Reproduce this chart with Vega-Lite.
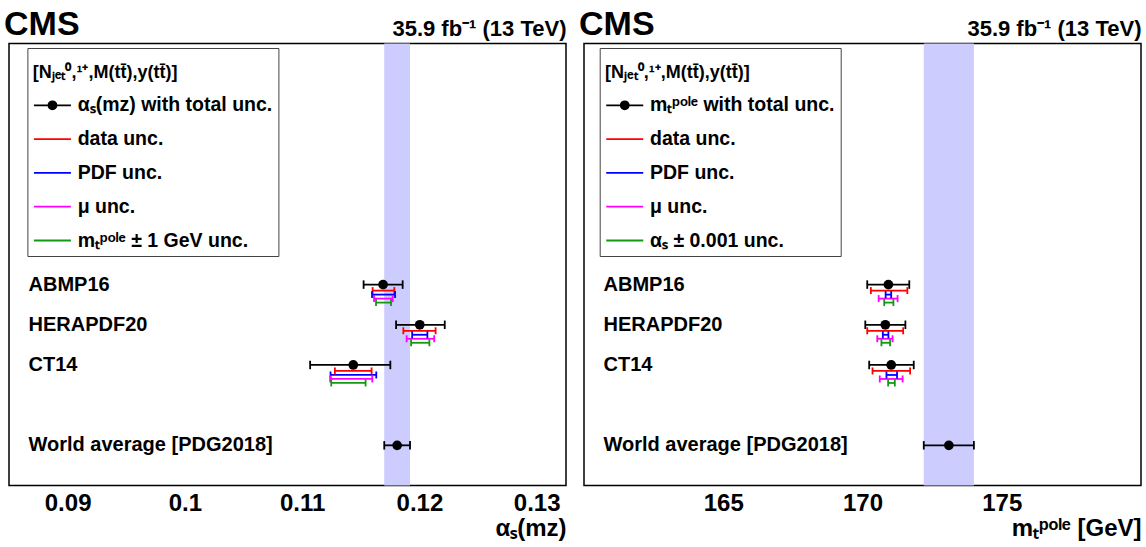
{
  "$schema": "https://vega.github.io/schema/vega-lite/v6.json",
  "padding": {"left": 3, "top": 6.5, "right": 4, "bottom": 0},
  "background": "white",
  "config": {
    "font": "Liberation Sans",
    "axis": {"grid": false},
    "view": {"stroke": "black", "strokeWidth": 1.5},
    "concat": {"spacing": 11}
  },
  "resolve": {"scale": {"color": "independent", "shape": "independent", "stroke": "independent"}},
  "datasets": {
    "alpha": [
      {"model": "ABMP16", "kind": "total", "val": 0.1169, "lo": 0.11524, "hi": 0.11857},
      {"model": "ABMP16", "kind": "data", "val": 0.1169, "lo": 0.11601, "hi": 0.11786},
      {"model": "ABMP16", "kind": "pdf", "val": 0.1169, "lo": 0.11596, "hi": 0.11792},
      {"model": "ABMP16", "kind": "mu", "val": 0.1169, "lo": 0.11613, "hi": 0.11772},
      {"model": "ABMP16", "kind": "fix", "val": 0.1169, "lo": 0.1163, "hi": 0.11758},
      {"model": "HERAPDF20", "kind": "total", "val": 0.12003, "lo": 0.11801, "hi": 0.12216},
      {"model": "HERAPDF20", "kind": "data", "val": 0.12003, "lo": 0.11863, "hi": 0.12138},
      {"model": "HERAPDF20", "kind": "pdf", "val": 0.12003, "lo": 0.11938, "hi": 0.12068},
      {"model": "HERAPDF20", "kind": "mu", "val": 0.12003, "lo": 0.11891, "hi": 0.12126},
      {"model": "HERAPDF20", "kind": "fix", "val": 0.12003, "lo": 0.11929, "hi": 0.12085},
      {"model": "CT14", "kind": "total", "val": 0.11436, "lo": 0.11068, "hi": 0.11752},
      {"model": "CT14", "kind": "data", "val": 0.11436, "lo": 0.11279, "hi": 0.11592},
      {"model": "CT14", "kind": "pdf", "val": 0.11436, "lo": 0.11242, "hi": 0.11632},
      {"model": "CT14", "kind": "mu", "val": 0.11436, "lo": 0.11239, "hi": 0.11598},
      {"model": "CT14", "kind": "fix", "val": 0.11436, "lo": 0.11248, "hi": 0.11541},
      {"model": "World average [PDG2018]", "kind": "total", "val": 0.1181, "lo": 0.117, "hi": 0.1192}
    ],
    "mt": [
      {"model": "ABMP16", "kind": "total", "val": 170.93, "lo": 170.17, "hi": 171.68},
      {"model": "ABMP16", "kind": "data", "val": 170.93, "lo": 170.30, "hi": 171.61},
      {"model": "ABMP16", "kind": "pdf", "val": 170.93, "lo": 170.83, "hi": 171.03},
      {"model": "ABMP16", "kind": "mu", "val": 170.93, "lo": 170.58, "hi": 171.26},
      {"model": "ABMP16", "kind": "fix", "val": 170.93, "lo": 170.78, "hi": 171.11},
      {"model": "HERAPDF20", "kind": "total", "val": 170.82, "lo": 170.10, "hi": 171.54},
      {"model": "HERAPDF20", "kind": "data", "val": 170.82, "lo": 170.17, "hi": 171.46},
      {"model": "HERAPDF20", "kind": "pdf", "val": 170.82, "lo": 170.73, "hi": 170.93},
      {"model": "HERAPDF20", "kind": "mu", "val": 170.82, "lo": 170.53, "hi": 171.08},
      {"model": "HERAPDF20", "kind": "fix", "val": 170.82, "lo": 170.68, "hi": 170.99},
      {"model": "CT14", "kind": "total", "val": 171.03, "lo": 170.24, "hi": 171.84},
      {"model": "CT14", "kind": "data", "val": 171.03, "lo": 170.36, "hi": 171.71},
      {"model": "CT14", "kind": "pdf", "val": 171.03, "lo": 170.86, "hi": 171.24},
      {"model": "CT14", "kind": "mu", "val": 171.03, "lo": 170.62, "hi": 171.44},
      {"model": "CT14", "kind": "fix", "val": 171.03, "lo": 170.92, "hi": 171.16},
      {"model": "World average [PDG2018]", "kind": "total", "val": 173.1, "lo": 172.2, "hi": 174.0}
    ]
  },
  "hconcat": [
    {
      "width": 557,
      "height": 442,
      "data": {"name": "alpha"},
      "title": {"text": "CMS", "anchor": "start", "frame": "group", "font": "Liberation Sans", "fontSize": 34, "fontWeight": "bold", "color": "black", "dx": -5, "offset": -24},
      "resolve": {"axis": {"x": "independent"}},
      "layer": [
        {
          "transform": [{"filter": "datum.kind == 'total' && datum.model == 'World average [PDG2018]'"}],
          "mark": {"type": "rect", "color": "#ccccff"},
          "encoding": {
            "x": {"field": "lo", "type": "quantitative", "scale": {"domain": [0.085, 0.1325], "nice": false, "zero": false},
              "axis": {"orient": "top", "values": [0.09, 0.1, 0.11, 0.12, 0.13], "labels": false, "domain": false, "grid": false, "ticks": false,
                "title": "35.9 fb⁻¹ (13 TeV)", "titleFont": "Liberation Sans", "titleFontSize": 22, "titleFontWeight": "bold", "titleColor": "black", "titleAnchor": "end", "titlePadding": 3}},
            "x2": {"field": "hi"}
          }
        },
        {
          "mark": {"type": "rule", "strokeWidth": 1.8},
          "encoding": {
            "x": {"field": "lo", "type": "quantitative", "scale": {"domain": [0.085, 0.1325], "nice": false, "zero": false},
              "axis": {"orient": "bottom", "values": [0.09, 0.1, 0.11, 0.12, 0.13], "labelExpr": "'' + datum.value",
                "domain": false, "ticks": false, "grid": false,
                "labelFont": "Liberation Sans", "labelFontSize": 24, "labelFontWeight": "bold", "labelColor": "black", "labelPadding": 6, "labelFlush": false, "labelOverlap": false,
                "title": "αₛ(mᴢ)", "titleFont": "Liberation Sans", "titleFontSize": 24, "titleFontWeight": "bold", "titleColor": "black", "titleAnchor": "end", "titlePadding": 1}},
            "x2": {"field": "hi"},
            "y": {"field": "model", "type": "nominal", "bandPosition": 0,
              "scale": {"type": "band", "domain": [" ", "  ", "   ", "    ", "     ", "ABMP16", "HERAPDF20", "CT14", "      ", "World average [PDG2018]"], "paddingInner": 0, "paddingOuter": 0.5},
              "axis": {"orient": "left", "domain": false, "ticks": false, "grid": false, "title": null, "labelAlign": "left", "labelBaseline": "middle", "labelPadding": -19, "labelFont": "Liberation Sans", "labelFontSize": 20, "labelFontWeight": "bold", "labelColor": "black", "labelLimit": 0}},
            "yOffset": {"field": "kind", "type": "nominal", "scale": {"type": "point", "domain": ["total", "_a", "_b", "data", "_c", "pdf", "_d", "mu", "_e", "fix"], "range": [20.1, 38.1], "padding": 0}},
            "stroke": {"field": "kind", "type": "nominal", "scale": {"domain": ["data", "pdf", "mu", "fix", "total"], "range": ["#ff0000", "#0000ff", "#ff00ff", "#119911", "black"]}, "legend": null}
          }
        },
        {
          "transform": [{"filter": "datum.kind == 'total'"}, {"fold": ["lo", "hi"], "as": ["end", "xe"]}],
          "mark": {"type": "point", "shape": "M0,-1L0,1", "filled": false, "size": 72, "strokeWidth": 1.8, "opacity": 1, "color": "black"},
          "encoding": {
            "x": {"field": "xe", "type": "quantitative", "axis": null},
            "y": {"field": "model", "type": "nominal", "bandPosition": 0,
              "scale": {"type": "band", "domain": [" ", "  ", "   ", "    ", "     ", "ABMP16", "HERAPDF20", "CT14", "      ", "World average [PDG2018]"], "paddingInner": 0, "paddingOuter": 0.5}},
            "yOffset": {"field": "kind", "type": "nominal", "scale": {"type": "point", "domain": ["total", "_a", "_b", "data", "_c", "pdf", "_d", "mu", "_e", "fix"], "range": [20.1, 38.1], "padding": 0}}
          }
        },
        {
          "transform": [{"filter": "datum.kind != 'total'"}, {"fold": ["lo", "hi"], "as": ["end", "xe"]}],
          "mark": {"type": "point", "shape": "M0,-1L0,1", "filled": false, "size": 49, "strokeWidth": 1.8, "opacity": 1},
          "encoding": {
            "x": {"field": "xe", "type": "quantitative", "axis": null},
            "y": {"field": "model", "type": "nominal", "bandPosition": 0,
              "scale": {"type": "band", "domain": [" ", "  ", "   ", "    ", "     ", "ABMP16", "HERAPDF20", "CT14", "      ", "World average [PDG2018]"], "paddingInner": 0, "paddingOuter": 0.5}},
            "yOffset": {"field": "kind", "type": "nominal", "scale": {"type": "point", "domain": ["total", "_a", "_b", "data", "_c", "pdf", "_d", "mu", "_e", "fix"], "range": [20.1, 38.1], "padding": 0}},
            "stroke": {"field": "kind", "type": "nominal", "scale": {"domain": ["data", "pdf", "mu", "fix", "total"], "range": ["#ff0000", "#0000ff", "#ff00ff", "#119911", "black"]}, "legend": null}
          }
        },
        {
          "transform": [{"filter": "datum.kind == 'total'"}],
          "mark": {"type": "point", "shape": "circle", "filled": true, "size": 95, "opacity": 1, "color": "black"},
          "encoding": {
            "x": {"field": "val", "type": "quantitative", "axis": null},
            "y": {"field": "model", "type": "nominal", "bandPosition": 0,
              "scale": {"type": "band", "domain": [" ", "  ", "   ", "    ", "     ", "ABMP16", "HERAPDF20", "CT14", "      ", "World average [PDG2018]"], "paddingInner": 0, "paddingOuter": 0.5}},
            "yOffset": {"field": "kind", "type": "nominal", "scale": {"type": "point", "domain": ["total", "_a", "_b", "data", "_c", "pdf", "_d", "mu", "_e", "fix"], "range": [20.1, 38.1], "padding": 0}}
          }
        },
        {
          "data": {"values": []},
          "mark": {"type": "point", "filled": false, "opacity": 1, "strokeWidth": 1.8},
          "encoding": {
            "color": {"field": "kind", "type": "nominal", "scale": {"domain": ["total", "data", "pdf", "mu", "fix"], "range": ["black", "#ff0000", "#0000ff", "#ff00ff", "#119911"]},
              "legend": {"orient": "none", "legendX": 18.4, "legendY": 4.5, "direction": "vertical",
                "title": "[Nⱼₑₜ⁰,¹⁺,M(tt̄),y(tt̄)]", "titleFont": "Liberation Sans", "titleFontSize": 18, "titleFontWeight": "bold", "titleColor": "black", "titleBaseline": "line-top", "titleLineHeight": 40, "titlePadding": 23.5, "titleLimit": 0,
                "labelFont": "Liberation Sans", "labelFontSize": 19.5, "labelFontWeight": "bold", "labelColor": "black", "labelLimit": 0, "labelOffset": 24,
                "labelExpr": "datum.label == 'total' ? 'αₛ(mᴢ) with total unc.' : datum.label == 'data' ? 'data unc.' : datum.label == 'pdf' ? 'PDF unc.' : datum.label == 'mu' ? 'μ unc.' : 'mₜᵖᵒˡᵉ ± 1 GeV unc.'",
                "symbolSize": 342, "symbolStrokeWidth": 1.8, "symbolOpacity": 1, "symbolOffset": 0, "rowPadding": 13.8, "padding": 5.3, "strokeColor": "#444444", "fillColor": "white"}},
            "shape": {"field": "kind", "type": "nominal",
              "scale": {"domain": ["total", "data", "pdf", "mu", "fix"], "range": ["M-1,0L3,0M1.108,0A0.108,0.108,0,1,1,0.892,0A0.108,0.108,0,1,1,1.108,0M1.27,0A0.27,0.27,0,1,1,0.73,0A0.27,0.27,0,1,1,1.27,0M1.433,0A0.433,0.433,0,1,1,0.567,0A0.433,0.433,0,1,1,1.433,0", "M-1,0L3,0", "M-1,0L3,0", "M-1,0L3,0", "M-1,0L3,0"]},
              "legend": {"orient": "none", "legendX": 18.4, "legendY": 4.5, "direction": "vertical",
                "title": "[Nⱼₑₜ⁰,¹⁺,M(tt̄),y(tt̄)]", "titleFont": "Liberation Sans", "titleFontSize": 18, "titleFontWeight": "bold", "titleColor": "black", "titleBaseline": "line-top", "titleLineHeight": 40, "titlePadding": 23.5, "titleLimit": 0,
                "labelFont": "Liberation Sans", "labelFontSize": 19.5, "labelFontWeight": "bold", "labelColor": "black", "labelLimit": 0, "labelOffset": 24,
                "labelExpr": "datum.label == 'total' ? 'αₛ(mᴢ) with total unc.' : datum.label == 'data' ? 'data unc.' : datum.label == 'pdf' ? 'PDF unc.' : datum.label == 'mu' ? 'μ unc.' : 'mₜᵖᵒˡᵉ ± 1 GeV unc.'",
                "symbolSize": 342, "symbolStrokeWidth": 1.8, "symbolOpacity": 1, "symbolOffset": 0, "rowPadding": 13.8, "padding": 5.3, "strokeColor": "#444444", "fillColor": "white"}}
          }
        }
      ]
    },
    {
      "width": 557,
      "height": 442,
      "data": {"name": "mt"},
      "title": {"text": "CMS", "anchor": "start", "frame": "group", "font": "Liberation Sans", "fontSize": 34, "fontWeight": "bold", "color": "black", "dx": -5, "offset": -24},
      "resolve": {"axis": {"x": "independent"}},
      "layer": [
        {
          "transform": [{"filter": "datum.kind == 'total' && datum.model == 'World average [PDG2018]'"}],
          "mark": {"type": "rect", "color": "#ccccff"},
          "encoding": {
            "x": {"field": "lo", "type": "quantitative", "scale": {"domain": [160, 180], "nice": false, "zero": false},
              "axis": {"orient": "top", "values": [165, 170, 175], "labels": false, "domain": false, "grid": false, "ticks": false,
                "title": "35.9 fb⁻¹ (13 TeV)", "titleFont": "Liberation Sans", "titleFontSize": 22, "titleFontWeight": "bold", "titleColor": "black", "titleAnchor": "end", "titlePadding": 3}},
            "x2": {"field": "hi"}
          }
        },
        {
          "mark": {"type": "rule", "strokeWidth": 1.8},
          "encoding": {
            "x": {"field": "lo", "type": "quantitative", "scale": {"domain": [160, 180], "nice": false, "zero": false},
              "axis": {"orient": "bottom", "values": [165, 170, 175], "labelExpr": "'' + datum.value",
                "domain": false, "ticks": false, "grid": false,
                "labelFont": "Liberation Sans", "labelFontSize": 24, "labelFontWeight": "bold", "labelColor": "black", "labelPadding": 6, "labelFlush": false, "labelOverlap": false,
                "title": "mₜᵖᵒˡᵉ [GeV]", "titleFont": "Liberation Sans", "titleFontSize": 24, "titleFontWeight": "bold", "titleColor": "black", "titleAnchor": "end", "titlePadding": 1}},
            "x2": {"field": "hi"},
            "y": {"field": "model", "type": "nominal", "bandPosition": 0,
              "scale": {"type": "band", "domain": [" ", "  ", "   ", "    ", "     ", "ABMP16", "HERAPDF20", "CT14", "      ", "World average [PDG2018]"], "paddingInner": 0, "paddingOuter": 0.5},
              "axis": {"orient": "left", "domain": false, "ticks": false, "grid": false, "title": null, "labelAlign": "left", "labelBaseline": "middle", "labelPadding": -19, "labelFont": "Liberation Sans", "labelFontSize": 20, "labelFontWeight": "bold", "labelColor": "black", "labelLimit": 0}},
            "yOffset": {"field": "kind", "type": "nominal", "scale": {"type": "point", "domain": ["total", "_a", "_b", "data", "_c", "pdf", "_d", "mu", "_e", "fix"], "range": [20.1, 38.1], "padding": 0}},
            "stroke": {"field": "kind", "type": "nominal", "scale": {"domain": ["data", "pdf", "mu", "fix", "total"], "range": ["#ff0000", "#0000ff", "#ff00ff", "#119911", "black"]}, "legend": null}
          }
        },
        {
          "transform": [{"filter": "datum.kind == 'total'"}, {"fold": ["lo", "hi"], "as": ["end", "xe"]}],
          "mark": {"type": "point", "shape": "M0,-1L0,1", "filled": false, "size": 72, "strokeWidth": 1.8, "opacity": 1, "color": "black"},
          "encoding": {
            "x": {"field": "xe", "type": "quantitative", "axis": null},
            "y": {"field": "model", "type": "nominal", "bandPosition": 0,
              "scale": {"type": "band", "domain": [" ", "  ", "   ", "    ", "     ", "ABMP16", "HERAPDF20", "CT14", "      ", "World average [PDG2018]"], "paddingInner": 0, "paddingOuter": 0.5}},
            "yOffset": {"field": "kind", "type": "nominal", "scale": {"type": "point", "domain": ["total", "_a", "_b", "data", "_c", "pdf", "_d", "mu", "_e", "fix"], "range": [20.1, 38.1], "padding": 0}}
          }
        },
        {
          "transform": [{"filter": "datum.kind != 'total'"}, {"fold": ["lo", "hi"], "as": ["end", "xe"]}],
          "mark": {"type": "point", "shape": "M0,-1L0,1", "filled": false, "size": 49, "strokeWidth": 1.8, "opacity": 1},
          "encoding": {
            "x": {"field": "xe", "type": "quantitative", "axis": null},
            "y": {"field": "model", "type": "nominal", "bandPosition": 0,
              "scale": {"type": "band", "domain": [" ", "  ", "   ", "    ", "     ", "ABMP16", "HERAPDF20", "CT14", "      ", "World average [PDG2018]"], "paddingInner": 0, "paddingOuter": 0.5}},
            "yOffset": {"field": "kind", "type": "nominal", "scale": {"type": "point", "domain": ["total", "_a", "_b", "data", "_c", "pdf", "_d", "mu", "_e", "fix"], "range": [20.1, 38.1], "padding": 0}},
            "stroke": {"field": "kind", "type": "nominal", "scale": {"domain": ["data", "pdf", "mu", "fix", "total"], "range": ["#ff0000", "#0000ff", "#ff00ff", "#119911", "black"]}, "legend": null}
          }
        },
        {
          "transform": [{"filter": "datum.kind == 'total'"}],
          "mark": {"type": "point", "shape": "circle", "filled": true, "size": 95, "opacity": 1, "color": "black"},
          "encoding": {
            "x": {"field": "val", "type": "quantitative", "axis": null},
            "y": {"field": "model", "type": "nominal", "bandPosition": 0,
              "scale": {"type": "band", "domain": [" ", "  ", "   ", "    ", "     ", "ABMP16", "HERAPDF20", "CT14", "      ", "World average [PDG2018]"], "paddingInner": 0, "paddingOuter": 0.5}},
            "yOffset": {"field": "kind", "type": "nominal", "scale": {"type": "point", "domain": ["total", "_a", "_b", "data", "_c", "pdf", "_d", "mu", "_e", "fix"], "range": [20.1, 38.1], "padding": 0}}
          }
        },
        {
          "data": {"values": []},
          "mark": {"type": "point", "filled": false, "opacity": 1, "strokeWidth": 1.8},
          "encoding": {
            "color": {"field": "kind", "type": "nominal", "scale": {"domain": ["total", "data", "pdf", "mu", "fix"], "range": ["black", "#ff0000", "#0000ff", "#ff00ff", "#119911"]},
              "legend": {"orient": "none", "legendX": 15.7, "legendY": 4.5, "direction": "vertical",
                "title": "[Nⱼₑₜ⁰,¹⁺,M(tt̄),y(tt̄)]", "titleFont": "Liberation Sans", "titleFontSize": 18, "titleFontWeight": "bold", "titleColor": "black", "titleBaseline": "line-top", "titleLineHeight": 40, "titlePadding": 23.5, "titleLimit": 0,
                "labelFont": "Liberation Sans", "labelFontSize": 19.5, "labelFontWeight": "bold", "labelColor": "black", "labelLimit": 0, "labelOffset": 24,
                "labelExpr": "datum.label == 'total' ? 'mₜᵖᵒˡᵉ with total unc.' : datum.label == 'data' ? 'data unc.' : datum.label == 'pdf' ? 'PDF unc.' : datum.label == 'mu' ? 'μ unc.' : 'αₛ ± 0.001 unc.'",
                "symbolSize": 342, "symbolStrokeWidth": 1.8, "symbolOpacity": 1, "symbolOffset": 0, "rowPadding": 13.8, "padding": 5.3, "strokeColor": "#444444", "fillColor": "white"}},
            "shape": {"field": "kind", "type": "nominal",
              "scale": {"domain": ["total", "data", "pdf", "mu", "fix"], "range": ["M-1,0L3,0M1.108,0A0.108,0.108,0,1,1,0.892,0A0.108,0.108,0,1,1,1.108,0M1.27,0A0.27,0.27,0,1,1,0.73,0A0.27,0.27,0,1,1,1.27,0M1.433,0A0.433,0.433,0,1,1,0.567,0A0.433,0.433,0,1,1,1.433,0", "M-1,0L3,0", "M-1,0L3,0", "M-1,0L3,0", "M-1,0L3,0"]},
              "legend": {"orient": "none", "legendX": 15.7, "legendY": 4.5, "direction": "vertical",
                "title": "[Nⱼₑₜ⁰,¹⁺,M(tt̄),y(tt̄)]", "titleFont": "Liberation Sans", "titleFontSize": 18, "titleFontWeight": "bold", "titleColor": "black", "titleBaseline": "line-top", "titleLineHeight": 40, "titlePadding": 23.5, "titleLimit": 0,
                "labelFont": "Liberation Sans", "labelFontSize": 19.5, "labelFontWeight": "bold", "labelColor": "black", "labelLimit": 0, "labelOffset": 24,
                "labelExpr": "datum.label == 'total' ? 'mₜᵖᵒˡᵉ with total unc.' : datum.label == 'data' ? 'data unc.' : datum.label == 'pdf' ? 'PDF unc.' : datum.label == 'mu' ? 'μ unc.' : 'αₛ ± 0.001 unc.'",
                "symbolSize": 342, "symbolStrokeWidth": 1.8, "symbolOpacity": 1, "symbolOffset": 0, "rowPadding": 13.8, "padding": 5.3, "strokeColor": "#444444", "fillColor": "white"}}
          }
        }
      ]
    }
  ]
}
